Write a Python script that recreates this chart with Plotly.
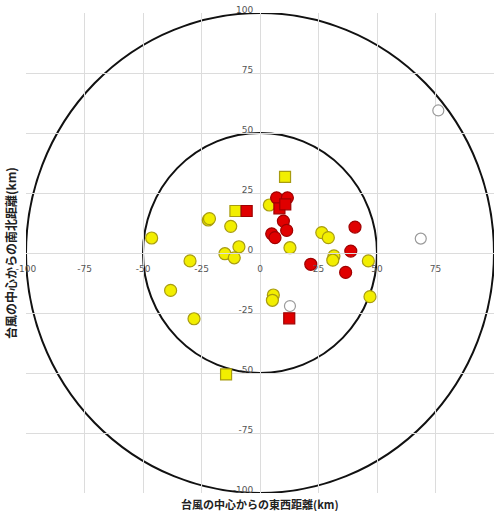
import plotly.graph_objects as go

# Data (km from typhoon centre)
yellow_circle_x = [4, 12.8, 26.4, 29.2, 31.6, 31.1, 46.3, 47, 5.7, 5.3, -22.1, -21.6, -12.5, -46.3, -9, -15, -11, -29.9, -38.2, -28.2]
yellow_circle_y = [20, 2.2, 8.5, 6.4, -1.2, -3, -3.3, -18.2, -17.5, -19.7, 13.75, 14.3, 11.1, 6.25, 2.6, -0.3, -2, -3.3, -15.6, -27.4]
red_circle_x = [7.1, 11.7, 10, 5, 6.4, 11.4, 40.6, 38.8, 21.7, 36.6]
red_circle_y = [23, 23, 13.3, 8, 6.4, 9.4, 10.8, 0.8, -4.7, -8.1]
yellow_square_x = [10.7, -10.5, -14.5]
yellow_square_y = [31.7, 17.5, -50.6]
red_square_x = [-5.7, 8.3, 10.8, 12.5]
red_square_y = [17.5, 18.6, 20.3, -27.2]
white_circle_x = [76.2, 68.7, 12.8]
white_circle_y = [59.4, 6, -22.1]

radii = [50, 100]
tick_vals = [-100, -75, -50, -25, 0, 25, 50, 75, 100]
tick_text = [str(v) for v in tick_vals]

x_title = "台風の中心からの東西距離(km)"
y_title = "台風の中心からの南北距離(km)"

fig = go.Figure()

def add(xs, ys, symbol, fill, edge, size):
    fig.add_trace(go.Scatter(
        x=xs, y=ys, mode="markers",
        marker=dict(symbol=symbol, color=fill, size=size,
                    line=dict(color=edge, width=1.2)),
        showlegend=False, hoverinfo="skip"))

add(white_circle_x, white_circle_y, "circle", "white", "#9a9a9a", 11)
add(yellow_circle_x, yellow_circle_y, "circle", "#f2ee00", "#a89c10", 12)
add(red_circle_x, red_circle_y, "circle", "#e00000", "#a00000", 12)
add(yellow_square_x, yellow_square_y, "square", "#f2ee00", "#a89c10", 11)
add(red_square_x, red_square_y, "square", "#e00000", "#a00000", 11)

for r in radii:
    fig.add_shape(type="circle", xref="x", yref="y", x0=-r, x1=r, y0=-r, y1=r,
                  line=dict(color="#111111", width=2), layer="below")

tickfont = dict(family="DejaVu Sans", size=9, color="#555555")
fig.update_layout(
    width=500, height=511,
    margin=dict(l=26, r=6, t=13, b=18),
    plot_bgcolor="white", paper_bgcolor="white",
    xaxis=dict(range=[-100, 100], tickvals=tick_vals, ticktext=tick_text,
               showgrid=True, gridcolor="#dcdcdc", gridwidth=1,
               zeroline=False, showline=True, linecolor="#dcdcdc", mirror=True,
               anchor="free", position=0.5, ticks="outside", ticklen=7,
               tickcolor="rgba(0,0,0,0)", tickfont=tickfont, automargin=False),
    yaxis=dict(range=[-100, 100], tickvals=tick_vals, ticktext=tick_text,
               showgrid=True, gridcolor="#dcdcdc", gridwidth=1,
               zeroline=False, showline=True, linecolor="#dcdcdc", mirror=True,
               anchor="free", position=0.5, ticks="outside", ticklen=5,
               ticklabelshift=-3,
               tickcolor="rgba(0,0,0,0)", tickfont=tickfont, automargin=False),
    annotations=[
        dict(text="<b>" + x_title + "</b>", xref="paper", yref="paper",
             x=0.5, y=0, yshift=-11, showarrow=False, yanchor="middle",
             font=dict(family="Noto Sans CJK JP", size=11, color="#222222")),
        dict(text="<b>" + y_title + "</b>", xref="paper", yref="paper",
             x=0, xshift=-16, y=0.5, showarrow=False, textangle=-90,
             xanchor="center", yanchor="middle",
             font=dict(family="Noto Sans CJK JP", size=12, color="#222222")),
    ],
)

fig.write_html(
    "out.html",
    config={"displayModeBar": False},
    post_script="document.body.style.margin='0';document.body.style.overflow='hidden';",
)
